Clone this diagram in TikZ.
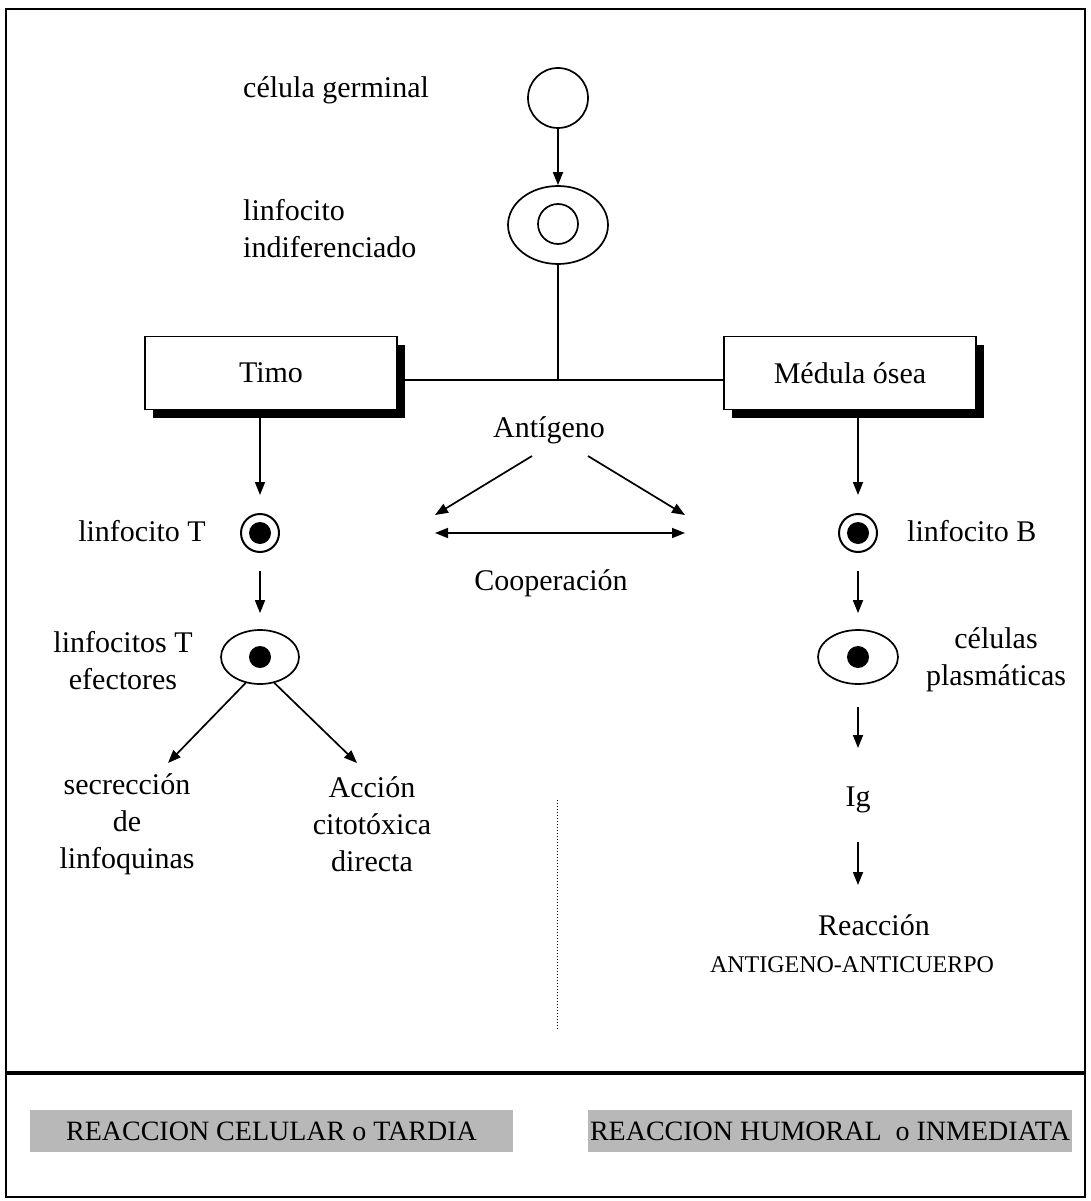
\documentclass[tikz,border=0pt]{standalone}
\usepackage{fontspec}
\setmainfont{Liberation Serif}
\usetikzlibrary{arrows.meta,shapes.geometric,shadows,calc}
\begin{document}
\begin{tikzpicture}[x=1pt,y=-1pt,
  lw/.style={line width=1.7pt},
  arr/.style={lw,-{Triangle[length=13pt,width=10pt]}},
  darr/.style={lw,{Triangle[length=13pt,width=10pt]}-{Triangle[length=13pt,width=10pt]}},
  lbl/.style={font=\fontsize{30}{37}\selectfont,inner sep=0pt,align=center},
  organ/.style={draw,lw,fill=white,minimum width=252pt,minimum height=73pt,
    font=\fontsize{30}{37}\selectfont,
    drop shadow={shadow xshift=8pt,shadow yshift=-8pt,fill=black,opacity=1}},
  ring/.style={circle,draw,line width=2pt,minimum size=38pt,inner sep=0pt},
  dot/.style={circle,fill=black,minimum size=22pt,inner sep=0pt},
  oval/.style={ellipse,draw,lw,inner sep=0pt},
  banner/.style={fill=black!28,draw=none,minimum height=42pt,
    font=\fontsize{28}{30}\selectfont,inner sep=0pt}
]
\useasboundingbox (0,0) rectangle (1091,1201);
% frame
\draw[line width=2.5pt] (6,9) rectangle (1085,1197);
\draw[line width=3.5pt] (6,1073) -- (1085,1073);
\draw[dotted,line width=1pt] (557,800) -- (557,1030);

% top cells
\node[circle,draw,lw,minimum size=60pt] (germ) at (558,98) {};
\node[lbl,anchor=west] (germlbl) at (243,90) {célula germinal};
\node[oval,minimum width=100pt,minimum height=78pt] (indif) at (558,225) {};
\node[circle,draw,lw,minimum size=40pt,inner sep=0pt] (indifnuc) at (558,224) {};
\node[lbl,anchor=west,align=left] (indiflbl) at (243,229) {linfocito\\indiferenciado};
\draw[arr] (germ.south) -- (indif.north);

% organs
\node[organ] (timo) at (271,373) {Timo};
\node[organ] (medula) at (850,373) {Médula ósea};
\coordinate (junc) at (558,380);
\draw[lw] (indif.south) -- (junc);
\draw[lw] (timo.east |- junc) -- (medula.west |- junc);

% T branch
\node[ring] (tcell) at (260,533) {};
\node[dot] (tcelldot) at (tcell) {};
\node[lbl] (tlbl) at (142,531) {linfocito T};
\draw[arr] (timo.south -| tcell) -- ([yshift=18pt]tcell.north);
\node[oval,minimum width=78pt,minimum height=54pt] (teff) at (260,657) {};
\node[dot] (teffdot) at (teff) {};
\node[lbl] (tefflbl) at (123,661) {linfocitos T\\efectores};
\draw[arr] ([yshift=-18pt]tcell.south) -- ([yshift=16pt]teff.north);
\node[lbl] (secr) at (127,824) {secrección\\de\\linfoquinas};
\node[lbl] (accion) at (372,824) {Acción\\citotóxica\\directa};
\coordinate (secrtip) at (168,763);
\coordinate (acctip) at (357,763);
\draw[arr] (teff.241) -- (secrtip);
\draw[arr] (teff.299) -- (acctip);

% centre
\node[lbl] (antigeno) at (549,430) {Antígeno};
\coordinate (aL0) at (532,456);
\coordinate (aR0) at (588,456);
\coordinate (aL) at (435,515);
\coordinate (aR) at (685,515);
\coordinate (cL) at (435,533);
\coordinate (cR) at (685,533);
\draw[arr] (aL0) -- (aL);
\draw[arr] (aR0) -- (aR);
\draw[darr] (cL) -- (cR);
\node[lbl] (coop) at (551,583) {Cooperación};

% B branch
\node[ring] (bcell) at (858,533) {};
\node[dot] (bcelldot) at (bcell) {};
\node[lbl,anchor=west] (blbl) at (907,531) {linfocito B};
\draw[arr] (medula.south -| bcell) -- ([yshift=18pt]bcell.north);
\node[oval,minimum width=80pt,minimum height=54pt] (plasma) at (858,657) {};
\node[dot] (plasmadot) at (plasma) {};
\node[lbl] (plasmalbl) at (996,660) {células\\plasmáticas};
\draw[arr] ([yshift=-18pt]bcell.south) -- ([yshift=16pt]plasma.north);
\node[lbl] (ig) at (858,800) {Ig};
\coordinate (ig1s) at (858,707);
\coordinate (ig1e) at (858,748);
\coordinate (ig2s) at (858,842);
\coordinate (ig2e) at (858,885);
\draw[arr] (ig1s) -- (ig1e);
\draw[arr] (ig2s) -- (ig2e);
\node[lbl] (reac) at (874,925) {Reacción};
\node[lbl,font=\fontsize{24}{28}\selectfont] (agac) at (852,965) {ANTIGENO-ANTICUERPO};

% banners
\node[banner,minimum width=483pt] (celular) at (271.5,1131) {REACCION CELULAR o TARDIA};
\node[banner,minimum width=484pt] (humoral) at (830,1131) {REACCION HUMORAL \ o INMEDIATA};
\end{tikzpicture}
\end{document}
